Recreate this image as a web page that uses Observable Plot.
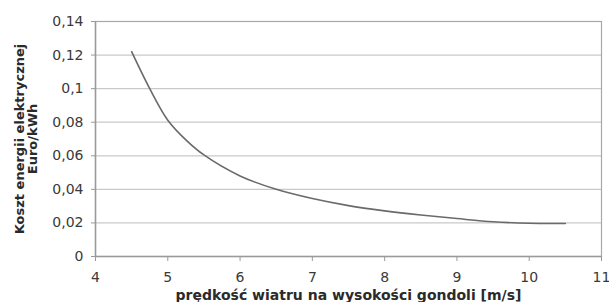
<!DOCTYPE html>
<html>
<head>
<meta charset="utf-8">
<script src="https://cdn.jsdelivr.net/npm/d3@7"></script>
<script src="https://cdn.jsdelivr.net/npm/@observablehq/plot@0.6"></script>
<style>
  html, body { margin: 0; padding: 0; background: #fff; }
  #chart svg { display: block; }
</style>
</head>
<body>
<div id="chart"></div>
<script>
const speeds = [4.5, 4.75, 5, 5.25, 5.5, 6, 6.5, 7, 7.5, 8, 8.5, 9, 9.5, 10, 10.5];
const costs  = [0.122, 0.100, 0.0812, 0.0695, 0.0605, 0.048, 0.0400, 0.0345, 0.0303, 0.0272, 0.0247, 0.0226, 0.0207, 0.0198, 0.0197];
const xTicks = [4, 5, 6, 7, 8, 9, 10, 11];
const yTicks = [0, 0.02, 0.04, 0.06, 0.08, 0.1, 0.12, 0.14];
const yTitle = "Koszt energii elektrycznej\nEuro/kWh";
const xTitle = "prędkość wiatru na wysokości gondoli [m/s]";

const data = speeds.map((s, i) => ({speed: s, cost: costs[i]}));
const fmt = d => String(d).replace(".", ",");

const chart = Plot.plot({
  width: 609,
  height: 302,
  marginLeft: 95,
  marginRight: 8,
  marginTop: 21,
  marginBottom: 46,
  style: {fontFamily: "DejaVu Sans", color: "#3a3a3a", background: "#fff", overflow: "visible"},
  x: {domain: [4, 11]},
  y: {domain: [0, 0.14]},
  marks: [
    Plot.gridY(yTicks, {stroke: "#c9c9c9", strokeOpacity: 1, strokeWidth: 1.2}),
    Plot.frame({stroke: "#a8a8a8", strokeWidth: 1.2}),
    Plot.ruleX([4], {stroke: "#9a9a9a", strokeWidth: 1.5}),
    Plot.ruleY([0], {stroke: "#9a9a9a", strokeWidth: 1.5}),
    Plot.axisY({ticks: yTicks, tickFormat: fmt, tickSize: 4, tickPadding: 8, fontSize: 14, stroke: "#999", fill: "#3a3a3a", label: null}),
    Plot.axisX({ticks: xTicks, tickFormat: d => String(d), tickSize: 5, tickPadding: 11, fontSize: 14, stroke: "#999", fill: "#3a3a3a", label: null}),
    Plot.line(data, {x: "speed", y: "cost", curve: "catmull-rom", stroke: "#6a6a6a", strokeWidth: 1.6}),
    Plot.text([yTitle], {frameAnchor: "left", dx: -69, rotate: -90, textAnchor: "middle", lineAnchor: "middle", lineHeight: 1.0, fontSize: 13, fontWeight: "bold", fill: "#2a2a2a"}),
    Plot.text([xTitle], {frameAnchor: "bottom", dy: 39, textAnchor: "middle", lineAnchor: "middle", fontSize: 14, fontWeight: "bold", fill: "#2a2a2a"})
  ]
});
document.getElementById("chart").appendChild(chart);
</script>
</body>
</html>
